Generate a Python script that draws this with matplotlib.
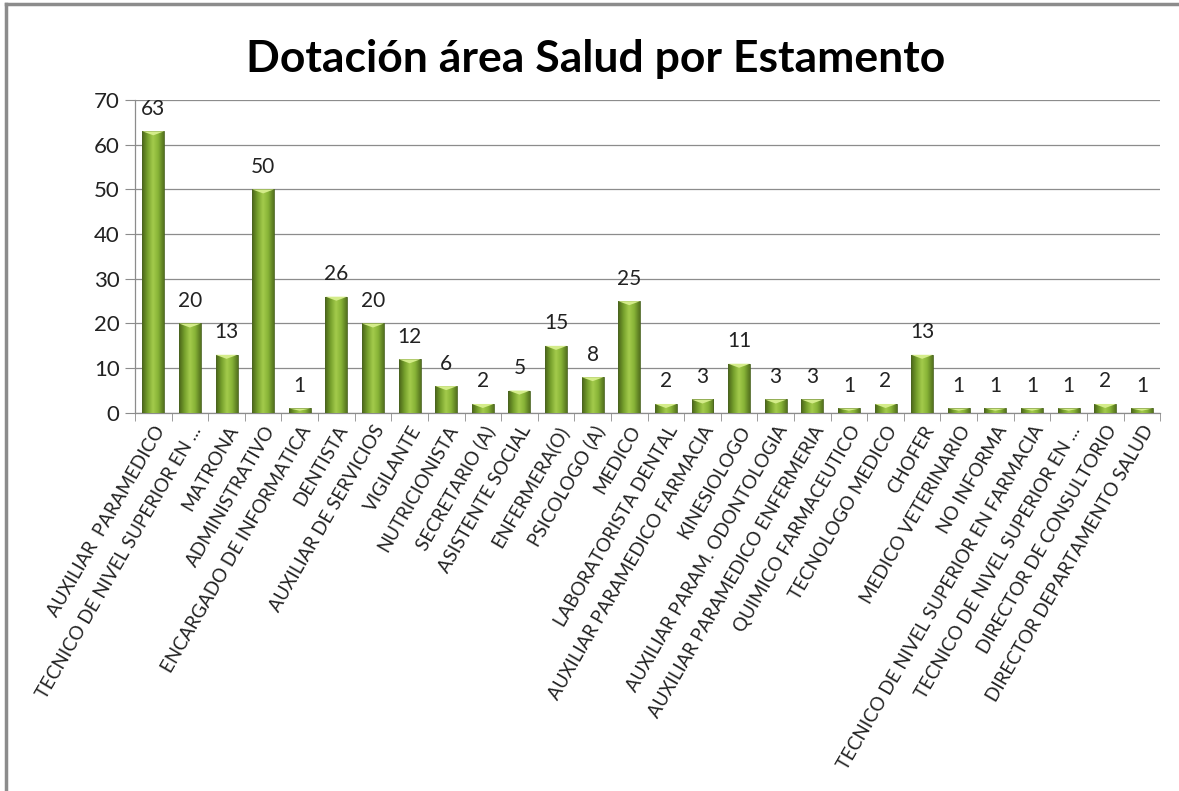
import numpy as np
import matplotlib
matplotlib.use("Agg")
import matplotlib.pyplot as plt
from matplotlib.colors import LinearSegmentedColormap
from matplotlib.lines import Line2D

categories = [
    "AUXILIAR  PARAMEDICO", "TECNICO DE NIVEL SUPERIOR EN ...", "MATRONA",
    "ADMINISTRATIVO", "ENCARGADO DE INFORMATICA", "DENTISTA",
    "AUXILIAR DE SERVICIOS", "VIGILANTE", "NUTRICIONISTA", "SECRETARIO (A)",
    "ASISTENTE SOCIAL", "ENFERMERA(O)", "PSICOLOGO (A)", "MEDICO",
    "LABORATORISTA DENTAL", "AUXILIAR PARAMEDICO FARMACIA", "KINESIOLOGO",
    "AUXILIAR PARAM. ODONTOLOGIA", "AUXILIAR PARAMEDICO ENFERMERIA",
    "QUIMICO FARMACEUTICO", "TECNOLOGO MEDICO", "CHOFER",
    "MEDICO VETERINARIO", "NO INFORMA", "TECNICO DE NIVEL SUPERIOR EN FARMACIA",
    "TECNICO DE NIVEL SUPERIOR EN ...", "DIRECTOR DE CONSULTORIO",
    "DIRECTOR DEPARTAMENTO SALUD",
]
values = [63, 20, 13, 50, 1, 26, 20, 12, 6, 2, 5, 15, 8, 25, 2, 3, 11, 3, 3,
          1, 2, 13, 1, 1, 1, 1, 2, 1]
yticks = [0, 10, 20, 30, 40, 50, 60, 70]
title = "Dotación área Salud por Estamento"

plt.rcParams['font.family'] = ['Lato', 'DejaVu Sans']

fig = plt.figure(figsize=(11.79, 7.91), dpi=100)
ax = fig.add_axes([0.1145, 0.478, 0.8695, 0.3956])

x = np.arange(len(categories))
bars = ax.bar(x, values, width=0.6, color="#8DB43A", zorder=2)

cmap = LinearSegmentedColormap.from_list(
    "g", ["#4A6419", "#76A02C", "#A4CC4C", "#86B236", "#55731F"])
grad = np.linspace(0, 1, 64).reshape(1, -1)
for b in bars:
    bx, by = b.get_x(), b.get_y()
    w, h = b.get_width(), b.get_height()
    im = ax.imshow(grad, cmap=cmap, extent=[bx, bx + w, by, by + h],
                   aspect="auto", zorder=3, interpolation="bicubic")
    im.set_clip_path(b)
    b.set_facecolor("none")
    b.set_edgecolor("#4A6420")
    b.set_linewidth(0.6)
    b.set_zorder(4)
    cap = min(0.9, h * 0.5)
    ax.fill([bx, bx + w, bx + w / 2], [by + h, by + h, by + h - cap],
            color="#D4EC8A", zorder=5, lw=0)
    ax.annotate(f"{int(h)}", (bx + w / 2, by + h), xytext=(0, 9),
                textcoords="offset points", ha="center", va="bottom",
                fontsize=15, color="#222222", zorder=6)

ax.set_xlim(-0.5, len(categories) - 0.5)
ax.set_ylim(0, 70)
ax.set_yticks(yticks)
ax.set_yticklabels([str(t) for t in yticks], fontsize=16, color="#222222")
ax.yaxis.grid(True, color="#8C8C8C", lw=0.9, zorder=0)
ax.set_axisbelow(True)

ax.set_xticks(x)
ax.set_xticklabels(categories, rotation=60, ha="right", va="top",
                   rotation_mode="anchor", fontsize=13.5, color="#222222")
ax.tick_params(axis="x", length=0, pad=7)
ax.set_xticks(np.arange(-0.5, len(categories), 1), minor=True)
ax.tick_params(axis="x", which="minor", length=6, color="#8C8C8C", direction="out")
ax.tick_params(axis="y", length=7, color="#8C8C8C", direction="out", pad=4)

for s in ["top", "right"]:
    ax.spines[s].set_visible(False)
for s in ["left", "bottom"]:
    ax.spines[s].set_color("#8C8C8C")
    ax.spines[s].set_linewidth(0.9)

fig.text(0.505, 0.925, title, ha="center", va="center", fontsize=32,
         fontweight="bold", color="#000000")

fig.add_artist(Line2D([0.005, 0.005], [0, 0.995], transform=fig.transFigure,
                      color="#8C8C8C", lw=2.5))
fig.add_artist(Line2D([0.005, 1.0], [0.995, 0.995], transform=fig.transFigure,
                      color="#8C8C8C", lw=2.5))

fig.savefig("out.png", dpi=100)
